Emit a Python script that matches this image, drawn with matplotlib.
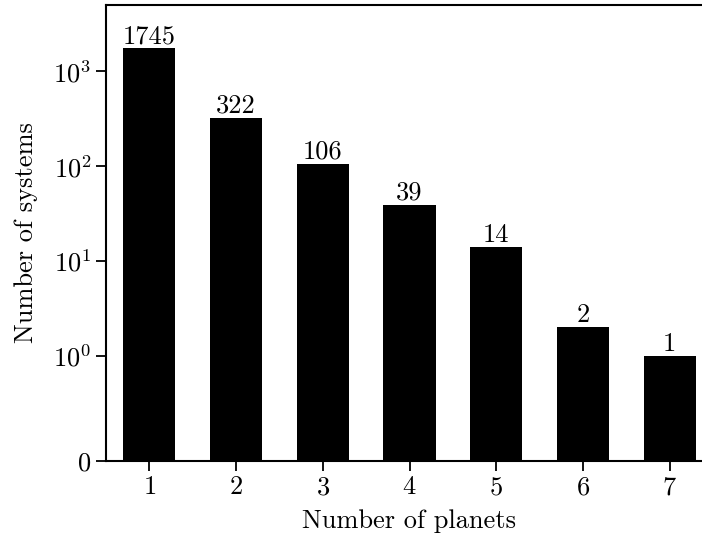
import numpy as np
import matplotlib
matplotlib.use('Agg')
import matplotlib.pyplot as plt
from matplotlib.ticker import NullLocator, FixedLocator

plt.rcParams['font.family'] = 'serif'
plt.rcParams['font.serif'] = ['cmr10', 'DejaVu Serif']
plt.rcParams['mathtext.fontset'] = 'cm'
plt.rcParams['axes.formatter.use_mathtext'] = True
plt.rcParams['font.size'] = 19

n_planets = [1, 2, 3, 4, 5, 6, 7]
n_systems = [1745, 322, 106, 39, 14, 2, 1]

fig = plt.figure(figsize=(7.02, 5.40), dpi=100)
ax = fig.add_axes([106 / 702, 79 / 540, 607 / 702, 456 / 540])

bars = ax.bar(n_planets, n_systems, width=0.6, color='black')
ax.bar_label(bars, labels=[str(v) for v in n_systems], padding=0)

ax.set_yscale('symlog', linthresh=1)
ax.set_ylim(0, 5000)
ax.set_xlim(0.5, 7.5)
ax.yaxis.set_major_locator(FixedLocator([0, 1, 10, 100, 1000]))
ax.yaxis.set_minor_locator(NullLocator())
ax.set_xticks(n_planets)

ax.tick_params(direction='out', length=7, width=1.3)
for s in ax.spines.values():
    s.set_linewidth(1.5)

ax.set_xlabel('Number of planets', labelpad=7)
ax.set_ylabel('Number of systems', labelpad=11)

fig.savefig('out.png', dpi=100)
